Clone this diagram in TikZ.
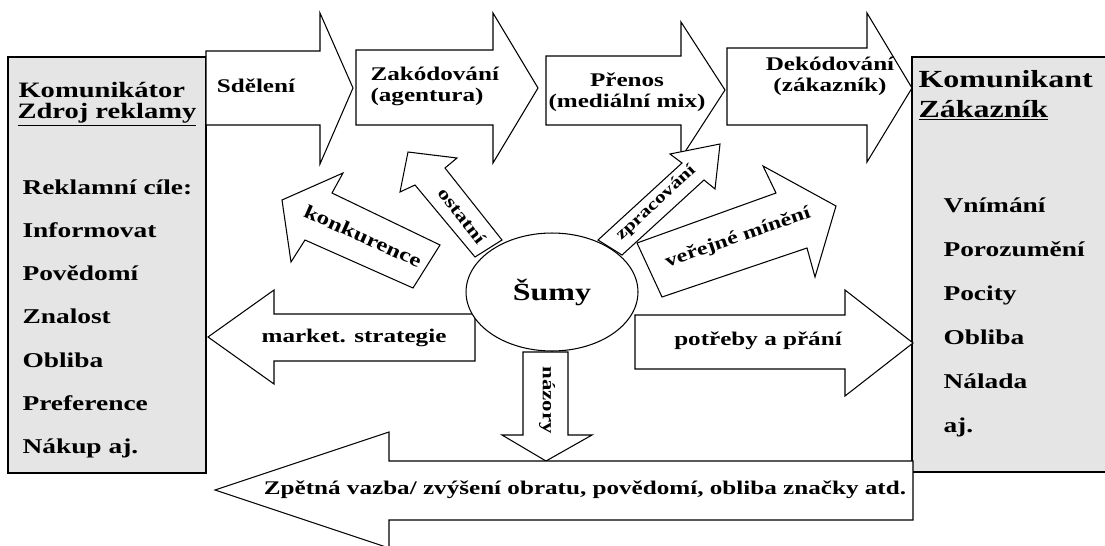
\documentclass[tikz,border=0pt]{standalone}
\usepackage{fontspec}
\setmainfont{Liberation Serif}[FakeStretch=1.3]
\usetikzlibrary{shapes.geometric}

\begin{document}
\begin{tikzpicture}[x=0.02cm, y=-0.02cm, line width=0.6pt,
	blok/.style={draw, fill=white, line join=miter},
	pole/.style={draw, fill=black!10, line width=0.8pt},
	txt/.style={font=\bfseries\fontsize{11}{12}\selectfont, inner sep=0pt},
	malytxt/.style={font=\bfseries\fontsize{10}{11}\selectfont, inner sep=0pt},
	boxtxt/.style={font=\bfseries\fontsize{12}{13}\selectfont, anchor=base west, inner sep=0pt}]
	\useasboundingbox (0,0) rectangle (1105,545);
	
	%side boxes
	\draw[pole] (8,57) rectangle (206,473);
	\draw[pole] (912,57) rectangle (1112,472);
	
	%top arrows
	\draw[blok] (206,51) -- (320,51) -- (320,13) -- (353,88) -- (320,164) -- (320,125) -- (206,125) -- cycle;
	\draw[blok] (356,50) -- (493,50) -- (493,13) -- (538,88) -- (493,163) -- (493,125) -- (356,125) -- cycle;
	\draw[blok] (546,56) -- (681,56) -- (681,22) -- (725,90) -- (681,158) -- (681,125) -- (546,125) -- cycle;
	\draw[blok] (727,48) -- (867,48) -- (867,13) -- (912,88) -- (867,162) -- (867,125) -- (727,125) -- cycle;
	
	%arrows round the noise
	\draw[blok] (720,144) -- (670,154) -- (682,163) -- (598,240) -- (622,255) -- (704,180) -- (715,189) -- cycle;
	\draw[blok] (836,206) -- (763,166) -- (776,193) -- (637,243) -- (662,297) -- (807,248) -- (815,277) -- cycle;
	\draw[blok] (440,245) -- (332,193) -- (343,173) -- (282,200) -- (291,262) -- (305,240) -- (413,288) -- cycle;
	\draw[blok] (408,152) -- (457,158) -- (445,168) -- (502,240) -- (475,257) -- (415,185) -- (400,192) -- cycle;
	\draw[blok] (475,314) -- (274,314) -- (274,290) -- (208,337) -- (274,384) -- (274,361) -- (475,361) -- cycle;
	\draw[blok] (635,315) -- (845,315) -- (845,290) -- (913,343) -- (845,396) -- (845,369) -- (635,369) -- cycle;
	\draw[blok] (523,352) -- (568,352) -- (568,435) -- (592,435) -- (546,461) -- (502,435) -- (523,435) -- cycle;
	
	%feedback
	\draw[blok] (913,461) -- (389,461) -- (389,432) -- (215,490) -- (389,548) -- (389,520) -- (913,520) -- cycle;
	
	\node[draw, ellipse, fill=white, minimum width=3.44cm, minimum height=2.36cm, inner sep=0pt,
		font=\bfseries\fontsize{14}{15}\selectfont] (sumy) at (552,292) {Šumy};
	
	%labels in the arrows
	\node[txt] (sdeleni) at (256,86) {Sdělení};
	\node[txt, anchor=west, align=left] (zakodovani) at (370,86) {Zakódování\\(agentura)};
	\node[txt, align=center] (prenos) at (627,92) {Přenos\\(mediální mix)};
	\node[txt, align=center] (dekodovani) at (830,76) {Dekódování\\(zákazník)};
	\node[txt, rotate=-24] (konkurence) at (363,236) {konkurence};
	\node[malytxt, rotate=-52] (ostatni) at (462,216) {ostatní};
	\node[malytxt, font=\bfseries\fontsize{9.5}{10}\selectfont, rotate=43] (zpracovani) at (656,203) {zpracování};
	\node[malytxt, font=\bfseries\fontsize{10.5}{11}\selectfont, rotate=19] (verejne) at (738,238) {veřejné mínění};
	\node[txt] (strategie) at (354,338) {market. strategie};
	\node[txt] (potreby) at (758,341) {potřeby a přání};
	\node[malytxt, rotate=-90] (nazory) at (547,400) {názory};
	\node[txt] (vazba) at (585,490) {Zpětná vazba/ zvýšení obratu, povědomí, obliba značky atd.};
	
	%left box
	\node[boxtxt, font=\bfseries\fontsize{12.5}{13}\selectfont] (komunikator) at (18,97) {Komunikátor};
	\node[boxtxt, font=\bfseries\fontsize{12.5}{13}\selectfont] (zdroj) at (17,118) {\underline{Zdroj reklamy}};
	\node[boxtxt] (cile) at (22,194) {Reklamní cíle:};
	\foreach \t [count=\i] in {Informovat, Povědomí, Znalost, Obliba, Preference, Nákup aj.}{
		\node[boxtxt] (cil\i) at (22, 194+43.3*\i) {\t};
	}
	
	%right box
	\node[boxtxt, font=\bfseries\fontsize{14}{15}\selectfont] (komunikant) at (918,87) {Komunikant};
	\node[boxtxt, font=\bfseries\fontsize{14}{15}\selectfont] (zakaznik) at (918,117) {\underline{Zákazník}};
	\foreach \t [count=\i] in {Vnímání, Porozumění, Pocity, Obliba, Nálada, aj.}{
		\node[boxtxt] (ucinek\i) at (943, 168+44*\i) {\t};
	}
\end{tikzpicture}
\end{document}
